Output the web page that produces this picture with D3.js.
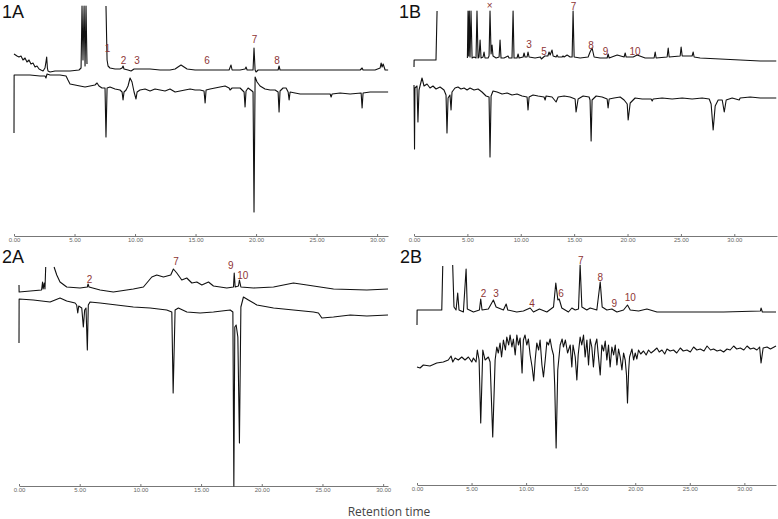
<!DOCTYPE html>
<html>
<head>
<meta charset="utf-8">
<script src="https://cdn.jsdelivr.net/npm/d3@7"></script>
<style>
  body { margin: 0; background: #fff; }
  svg { display: block; }
  .trace { fill: none; stroke: #111; stroke-width: 1.1; stroke-linejoin: round; }
  .axis path, .axis line { stroke: #777; }
  .axis text { fill: #666; font-family: "Liberation Sans", Arial, sans-serif; }
  .peak { fill: #8e3535; font-family: "Liberation Sans", Arial, sans-serif; font-size: 10px; text-anchor: middle; }
  .panel { fill: #111; font-family: "Liberation Sans", Arial, sans-serif; font-size: 18px; }
</style>
</head>
<body>
<div id="chart"></div>
<script>
// retention time (min), intensity (arbitrary units above the baseline axis)
// null = detector off (solvent delay)

// panel names and x domain end (min)
panelNames = ["1A", "1B", "2A", "2B"];
timeMax = [30.9, 34.0, 30.4, 32.9];
tickValues = [0, 5, 10, 15, 20, 25, 30];

trace1A_top = [[0,182],[0.25,180],[0.41,179],[0.58,180],[0.74,176],[0.91,178],[1.07,174],[1.24,176],[1.40,172],[1.57,173],
  [1.74,169],[1.90,170],[2.07,167],[2.23,166],[2.40,165],[2.56,168],[2.64,174],[2.70,179],[2.76,168],[2.81,165],[2.98,164],
  [3.39,165],[3.80,165],[4.63,165],[5.37,166],[5.54,168],[5.62,230],[5.70,176],[5.79,230],[5.87,170],[5.95,230],[6.03,172],
  null,
  [7.60,230],[7.69,176],[7.77,170],[7.93,168],[8.35,167],[8.76,167],[8.93,168],[9.01,170],[9.09,167],[9.42,166],[9.67,165],
  [9.92,167],[10.41,167],[11.24,167],[12.07,166],[12.89,166],[13.31,167],[13.55,169],[13.80,171],[14.05,169],[14.30,167],
  [14.96,166],[15.79,166],[17.02,166],[17.77,166],[17.93,171],[18.02,166],[18.68,166],[19.09,167],[19.17,169],[19.26,166],
  [19.75,166],[19.83,188],[19.92,166],[20.00,164],[20.17,166],[21.16,166],[21.82,166],[21.90,170],[21.98,166],[23.64,166],
  [25.29,166],[26.94,166],[28.60,166],[28.76,168],[28.84,166],[29.83,166],[30.25,168],[30.33,173],[30.41,169],[30.50,172],
  [30.66,166],[30.91,166]];

trace1A_bottom = [[0,103],[0.01,161],[0.50,161],[1.32,161],[2.15,160],[2.56,160],[2.64,158],[2.73,162],[2.98,161],[3.39,161],
  [3.80,161],[4.30,160],[4.46,156],[4.63,152],[5.04,151],[5.45,150],[5.87,149],[6.28,150],[6.69,151],[6.86,153],[7.02,150],
  [7.27,148],[7.52,148],[7.60,99],[7.69,148],[7.93,149],[8.35,147],[8.76,146],[8.93,144],[9.01,136],[9.09,144],[9.26,146],
  [9.42,150],[9.59,158],[9.75,154],[9.92,144],[10.08,137],[10.17,144],[10.41,146],[10.83,147],[11.24,145],[11.65,147],
  [12.07,146],[12.48,145],[12.89,147],[13.31,144],[13.72,145],[14.13,146],[14.55,147],[14.96,146],[15.37,146],[15.70,145],
  [15.79,133],[15.87,146],[16.20,147],[16.61,148],[17.02,149],[17.44,150],[17.77,148],[17.85,146],[18.02,148],[18.68,148],
  [19.01,144],[19.09,129],[19.17,145],[19.34,148],[19.67,145],[19.75,144],[19.83,24],[19.92,159],[20.08,154],[20.33,150],
  [20.74,147],[21.16,146],[21.57,146],[21.82,144],[21.90,124],[21.98,145],[22.23,148],[22.48,148],[22.65,144],[22.73,136],
  [22.81,144],[23.22,143],[23.64,142],[24.46,142],[25.29,142],[26.12,142],[26.20,139],[26.28,142],[26.94,143],[27.77,142],
  [28.68,143],[28.76,128],[28.84,143],[29.42,144],[30.25,144],[30.91,144]];

trace1B_top = [[0,169],[0.01,176],[2.06,176],[2.16,225],
  null,
  [5.00,178],[5.06,225],[5.12,180],[5.18,225],[5.25,179],[5.34,225],[5.44,178],[5.62,179],[5.81,178],[5.90,225],[6.00,178],
  [6.09,179],[6.19,196],[6.28,178],[6.47,179],[6.56,184],[6.65,178],[6.94,178],[7.03,180],[7.12,225],[7.22,182],[7.31,191],
  [7.40,180],[7.69,178],[7.97,179],[8.06,196],[8.15,178],[8.43,178],[8.81,180],[8.90,178],[9.18,178],[9.28,225],[9.37,178],
  [9.65,178],[9.75,182],[9.84,178],[10.22,179],[10.31,183],[10.40,179],[10.59,179],[10.68,184],[10.78,179],[11.34,178],
  [11.84,179],[11.93,177],[12.25,180],[12.54,180],[12.65,184],[12.75,181],[12.93,186],[13.03,180],[13.31,179],[13.40,181],
  [13.50,179],[13.87,179],[13.96,180],[14.06,179],[14.34,181],[14.62,179],[14.81,179],[14.90,225],[15.00,179],[15.56,178],
  [16.31,179],[16.49,184],[16.68,188],[16.87,179],[17.43,178],[18.09,178],[18.18,182],[18.28,178],[19.03,181],[19.68,179],
  [19.78,183],[19.87,179],[20.53,179],[20.90,181],[21.65,178],[22.49,178],[22.59,184],[22.68,178],[23.71,179],[23.81,188],
  [23.90,179],[24.93,180],[25.02,189],[25.12,180],[26.05,180],[26.15,184],[26.24,179],[26.80,178],[28.68,177],[30.55,176],
  [32.43,175],[33.93,175]];

trace1B_bottom = [[0,151],[0.05,87],[0.09,148],[0.28,150],[0.37,114],[0.47,146],[0.75,158],[0.94,150],[1.22,152],[1.50,148],
  [1.78,150],[2.06,147],[2.44,149],[2.81,146],[3.00,141],[3.09,103],[3.19,138],[3.37,141],[3.47,126],[3.56,144],[3.84,148],
  [4.12,149],[4.40,147],[4.69,148],[4.97,146],[5.25,148],[5.62,146],[6.00,147],[6.37,144],[6.75,140],[7.03,139],[7.12,79],
  [7.22,140],[7.40,145],[7.78,144],[8.25,142],[8.72,143],[9.18,141],[9.65,142],[10.12,140],[10.59,139],[10.68,126],
  [10.78,139],[11.15,141],[11.62,140],[12.18,139],[12.28,136],[12.37,140],[12.93,139],[13.31,134],[13.50,139],[14.06,140],
  [14.62,139],[15.09,137],[15.18,124],[15.37,137],[15.84,140],[16.40,139],[16.49,136],[16.59,95],[16.68,136],[17.06,140],
  [17.62,139],[18.09,137],[18.18,128],[18.28,137],[18.74,138],[19.31,139],[19.68,136],[19.97,132],[20.06,116],[20.25,133],
  [20.71,138],[21.37,137],[22.21,137],[22.31,135],[22.40,137],[23.24,138],[24.18,137],[25.12,138],[26.05,137],[26.99,138],
  [27.65,137],[27.83,132],[28.02,106],[28.21,130],[28.49,136],[28.87,136],[29.06,124],[29.24,136],[29.80,138],[30.46,136],
  [30.55,138],[31.49,139],[32.43,138],[33.93,138]];

trace2A_top = [[0,201],[0.01,194],[1.86,196],[1.94,204],[1.99,197],[2.08,203],[2.14,197],[2.20,219],
  null,
  [2.89,219],[3.11,211],[3.38,204],[3.93,199],[5.03,198],[5.63,199],[5.69,202],[5.77,199],[6.68,196],[7.77,194],[9.42,197],
  [10.25,199],[10.94,209],[11.35,211],[11.90,209],[12.50,211],[12.72,217],[13.00,213],[13.41,206],[13.82,208],[14.24,203],
  [14.65,204],[15.06,201],[15.61,204],[16.02,200],[17.12,198],[17.67,199],[17.73,213],[17.81,199],[18.08,200],[18.16,206],
  [18.28,199],[19.32,198],[20.97,199],[22.61,203],[23.72,201],[24.81,199],[25.91,197],[28.66,196],[30.40,197]];

trace2A_bottom = [[0,143],[0.01,187],[1.18,186],[2.56,184],[3.38,188],[3.93,185],[4.62,183],[4.75,181],[4.84,173],[4.92,180],
  [5.17,178],[5.30,159],[5.41,176],[5.52,178],[5.63,136],[5.71,181],[5.85,184],[6.68,183],[8.05,181],[9.42,179],[10.80,178],
  [12.17,176],[12.59,174],[12.70,93],[12.86,176],[13.13,178],[13.83,174],[14.92,173],[16.02,174],[17.40,176],[17.62,174],
  [17.70,0],[17.78,159],[17.89,161],[18.03,149],[18.16,43],[18.28,179],[18.49,189],[18.90,186],[19.60,181],[20.97,178],
  [22.61,176],[24.26,174],[24.67,173],[24.95,168],[25.91,169],[27.29,171],[28.66,170],[30.40,171]];

trace2B_top = [[0,160],[0.01,175],[2.27,175],[2.36,219],
  null,
  [3.27,220],[3.39,178],[3.58,175],[3.73,192],[3.85,175],[4.25,173],[4.50,216],[4.61,176],[5.17,173],[5.72,175],[5.84,186],
  [5.96,175],[6.54,176],[7.00,185],[7.25,178],[7.92,175],[8.17,181],[8.32,175],[9.14,173],[9.75,174],[10.37,177],[10.67,173],
  [11.22,176],[11.90,173],[12.51,178],[12.72,202],[12.91,185],[13.03,186],[13.27,177],[13.88,173],[14.19,177],[14.50,175],
  [14.80,176],[14.95,220],[15.11,178],[15.56,175],[15.87,177],[16.48,175],[16.79,203],[16.97,178],[17.40,175],[17.86,176],
  [18.32,173],[18.93,175],[19.29,180],[19.54,175],[20.31,174],[21.07,176],[21.99,173],[25.05,173],[28.10,173],[31.47,174],
  [31.53,177],[31.65,173],[32.90,173]];

trace2B_bottom = [[0,118],[0.28,117],[0.58,120],[1.19,119],[1.81,122],[2.41,123],[2.87,125],[3.12,129],[3.28,123],[3.49,127],
  [3.79,125],[4.10,128],[4.40,125],[4.71,128],[5.02,123],[5.17,127],[5.41,123],[5.53,135],[5.69,125],[5.84,62],[6.03,135],
  [6.24,125],[6.54,128],[6.70,123],[6.94,48],[7.16,125],[7.31,138],[7.45,132],[7.61,142],[7.75,128],[7.92,145],[8.10,135],
  [8.23,148],[8.40,140],[8.53,150],[8.70,138],[8.83,146],[9.00,130],[9.15,150],[9.30,140],[9.45,147],[9.63,112],[9.75,145],
  [9.90,150],[10.06,140],[10.21,146],[10.37,130],[10.55,118],[10.70,104],[10.83,125],[10.98,142],[11.15,135],[11.28,145],
  [11.45,120],[11.59,108],[11.75,125],[11.90,143],[12.05,140],[12.20,146],[12.36,136],[12.51,130],[12.62,100],[12.75,37],
  [12.90,115],[13.12,140],[13.30,146],[13.42,138],[13.60,145],[13.80,132],[14.04,140],[14.19,118],[14.30,140],[14.50,128],
  [14.65,105],[14.77,130],[14.95,148],[15.10,140],[15.26,150],[15.41,128],[15.57,145],[15.72,120],[15.87,146],[16.02,138],
  [16.17,118],[16.33,140],[16.48,146],[16.63,128],[16.79,110],[16.94,140],[17.10,134],[17.25,144],[17.40,125],[17.55,140],
  [17.70,118],[17.86,138],[18.02,130],[18.17,140],[18.32,120],[18.47,136],[18.62,128],[18.78,115],[18.93,132],[19.08,125],
  [19.20,110],[19.29,82],[19.40,115],[19.48,128],[19.70,136],[19.85,125],[20.00,132],[20.15,126],[20.30,135],[20.50,131],
  [20.76,134],[21.00,130],[21.22,135],[21.45,132],[21.68,134],[21.99,137],[22.20,133],[22.45,135],[22.70,131],[22.91,136],
  [23.20,134],[23.51,135],[23.80,132],[24.13,137],[24.40,134],[24.74,135],[25.05,133],[25.35,138],[25.65,135],[25.96,136],
  [26.30,134],[26.58,139],[26.90,135],[27.18,136],[27.50,134],[27.80,135],[28.10,133],[28.41,136],[28.70,135],[29.02,139],
  [29.30,136],[29.63,137],[29.95,135],[30.25,139],[30.55,136],[30.85,137],[31.15,135],[31.40,138],[31.53,122],[31.72,137],
  [32.08,138],[32.39,136],[32.90,139]];

// peak labels: [label, retention time, label height]
peaks1A = [["1",7.73,184],["2",9.05,172],["3",10.17,172],["6",15.95,172],["7",19.88,193],["8",21.74,172]];
peaks1B = [["\u00d7",7.08,227],["3",10.78,188],["5",12.18,181],["7",14.95,226],["8",16.59,187],["9",17.95,181],["10",20.71,181]];
peaks2A = [["2",5.81,203],["7",12.94,221],["9",17.44,217],["10",18.43,207]];
peaks2B = [["2",6.10,188],["3",7.25,188],["4",10.55,178],["6",13.21,188],["7",15.00,221],["8",16.79,204],["9",18.07,178],["10",19.54,184]];

// layout of the four panels (pixels)
var width = 778, height = 519;
var layout = [
  {left: 14,  right: 388, axisY: 236, nameX: 2,   nameY: 18},
  {left: 414, right: 777, axisY: 236, nameX: 399, nameY: 18},
  {left: 19,  right: 388, axisY: 486, nameX: 2,   nameY: 263},
  {left: 417, right: 776, axisY: 485, nameX: 400, nameY: 263}
];
var traces = [[trace1A_top, trace1A_bottom], [trace1B_top, trace1B_bottom],
              [trace2A_top, trace2A_bottom], [trace2B_top, trace2B_bottom]];
var peaks = [peaks1A, peaks1B, peaks2A, peaks2B];

var svg = d3.select("#chart")
  .append("svg")
  .attr("width", width)
  .attr("height", height);

panelNames.forEach(function(name, i) {
  var L = layout[i];
  var x = d3.scaleLinear().domain([0, timeMax[i]]).range([L.left, L.right]);
  var y = d3.scaleLinear().domain([0, 230]).range([L.axisY, L.axisY - 230]);

  var g = svg.append("g");

  // axis
  g.append("g")
    .attr("class", "axis")
    .attr("transform", "translate(0," + L.axisY + ")")
    .call(d3.axisBottom(x)
      .tickValues(tickValues)
      .tickFormat(d3.format(".2f"))
      .tickSizeInner(-2)
      .tickSizeOuter(0)
      .tickPadding(2))
    .call(function(a) {
      a.selectAll("text").style("font-size", "6px");
      a.select(".domain").attr("stroke-width", 1);
    });

  var line = d3.line()
    .defined(function(d) { return d !== null; })
    .x(function(d) { return x(d[0]); })
    .y(function(d) { return y(d[1]); });

  traces[i].forEach(function(tr) {
    g.append("path")
      .attr("class", "trace")
      .attr("d", line(tr));
  });

  g.selectAll("text.peak")
    .data(peaks[i])
    .enter()
    .append("text")
    .attr("class", "peak")
    .attr("x", function(d) { return x(d[1]); })
    .attr("y", function(d) { return y(d[2]); })
    .text(function(d) { return d[0]; });

  g.append("text")
    .attr("class", "panel")
    .attr("x", L.nameX)
    .attr("y", L.nameY)
    .text(name);
});

svg.append("text")
  .attr("x", 389)
  .attr("y", 516)
  .attr("text-anchor", "middle")
  .style("font-family", "'Open Sans', sans-serif")
  .style("font-size", "12px")
  .style("fill", "#444")
  .text("Retention time");
</script>
</body>
</html>
